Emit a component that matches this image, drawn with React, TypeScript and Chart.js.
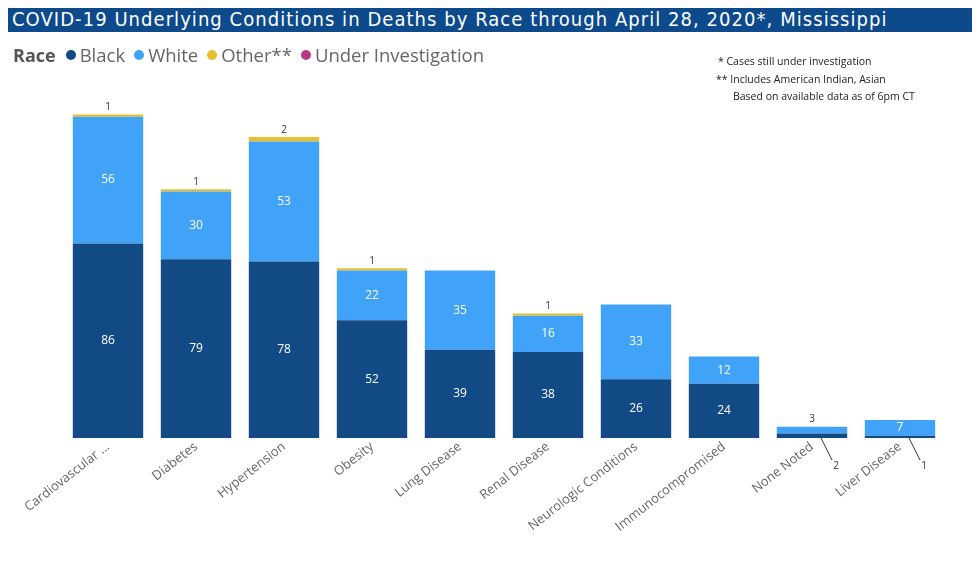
import React, { useEffect, useRef } from "react";
import { Chart, registerables } from "chart.js";

Chart.register(...registerables);

const categories = [
  "Cardiovascular ...",
  "Diabetes",
  "Hypertension",
  "Obesity",
  "Lung Disease",
  "Renal Disease",
  "Neurologic Conditions",
  "Immunocompromised",
  "None Noted",
  "Liver Disease",
];
const blackValues = [86, 79, 78, 52, 39, 38, 26, 24, 2, 1];
const whiteValues = [56, 30, 53, 22, 35, 16, 33, 12, 3, 7];
const otherValues = [1, 1, 2, 1, 0, 1, 0, 0, 0, 0];
const underInvestigationValues = [0, 0, 0, 0, 0, 0, 0, 0, 0, 0];
const seriesNames = ["Black", "White", "Other**", "Under Investigation"];
const seriesColors = ["#124a86", "#41a3f8", "#e6c02e", "#b43a8a"];
const notes = [
  "* Cases still under investigation",
  "** Includes American Indian, Asian",
  "Based on available data as of 6pm CT",
];
const titleText =
  "COVID-19 Underlying Conditions in Deaths by Race through April 28, 2020*, Mississippi";

const segLabels = {
  id: "segLabels",
  afterDatasetsDraw(chart: any) {
    const ctx = chart.ctx;
    ctx.save();
    ctx.textAlign = "center";
    ctx.textBaseline = "middle";
    chart.data.datasets.forEach((ds: any, di: number) => {
      const meta = chart.getDatasetMeta(di);
      meta.data.forEach((bar: any, j: number) => {
        const v = ds.data[j];
        if (!v) return;
        const { x, y, base } = bar.getProps(["x", "y", "base"], true);
        const h = Math.abs(base - y);
        const top = Math.min(y, base);
        let above = 0;
        for (let k = di + 1; k < chart.data.datasets.length; k++) {
          above += chart.data.datasets[k].data[j] || 0;
        }
        if (di >= 2) {
          ctx.fillStyle = "#333";
          ctx.font = "10px 'Open Sans'";
          ctx.fillText(String(v), x, top - 7);
        } else if (h >= 14) {
          ctx.fillStyle = "#ffffff";
          ctx.font = "12px 'Open Sans'";
          ctx.fillText(String(v), x, (y + base) / 2);
        } else if (above === 0) {
          ctx.fillStyle = "#333";
          ctx.font = "10px 'Open Sans'";
          ctx.fillText(String(v), x, top - 8);
        } else {
          const bottom = Math.max(y, base);
          ctx.strokeStyle = "#333";
          ctx.lineWidth = 1;
          ctx.beginPath();
          ctx.moveTo(x + 8, bottom - 2);
          ctx.lineTo(x + 20, bottom + 22);
          ctx.stroke();
          ctx.fillStyle = "#333";
          ctx.font = "10px 'Open Sans'";
          ctx.fillText(String(v), x + 24, bottom + 28);
        }
      });
    });
    ctx.restore();
  },
};

export default function App() {
  const ref = useRef<HTMLCanvasElement | null>(null);
  useEffect(() => {
    if (!ref.current) return;
    const values = [blackValues, whiteValues, otherValues, underInvestigationValues];
    const chart = new Chart(ref.current, {
      type: "bar",
      data: {
        labels: categories,
        datasets: seriesNames.map((name, i) => ({
          label: name,
          data: values[i],
          backgroundColor: seriesColors[i],
          borderWidth: 0,
          barPercentage: 0.8,
          categoryPercentage: 1,
        })),
      },
      options: {
        animation: false,
        responsive: false,
        devicePixelRatio: 1,
        layout: { padding: { left: 56, right: 28, top: 68, bottom: 0 } },
        plugins: {
          legend: { display: false },
          tooltip: { enabled: false },
          title: { display: false },
        },
        scales: {
          x: {
            stacked: true,
            grid: { display: false },
            border: { display: false },
            ticks: {
              color: "#666",
              font: { family: "'Open Sans'", size: 13 },
              minRotation: 38,
              maxRotation: 38,
              autoSkip: false,
              padding: -7,
            },
            afterFit: (s: any) => {
              s.height = 136;
            },
          },
          y: {
            stacked: true,
            display: false,
            min: 0,
            max: 160,
          },
        },
      },
      plugins: [segLabels],
    } as any);
    return () => chart.destroy();
  }, []);

  return (
    <div style={{ position: "relative", width: 964, height: 566 }}>
      <canvas ref={ref} width={964} height={566} style={{ position: "absolute", left: 0, top: 0, width: 964, height: 566 }} />
      <div
        style={{
          position: "absolute",
          left: 0,
          top: -1,
          width: 965,
          height: 25,
          lineHeight: "25px",
          background: "#0d4a8c",
          color: "#fff",
          fontFamily: "'DejaVu Sans Condensed', 'DejaVu Sans'",
          fontSize: 20,
          letterSpacing: 1.05,
          paddingLeft: 4,
          boxSizing: "border-box",
          whiteSpace: "nowrap",
          overflow: "hidden",
        }}
      >
        {titleText}
      </div>
      <div
        style={{
          position: "absolute",
          left: 5,
          top: 36,
          height: 22,
          lineHeight: "22px",
          fontFamily: "'Open Sans'",
          fontSize: 18.5,
          color: "#666",
          whiteSpace: "nowrap",
          display: "flex",
          alignItems: "center",
        }}
      >
        <span style={{ fontWeight: "bold", color: "#555", fontSize: 18, marginRight: 10 }}>Race</span>
        {seriesNames.map((n, i) => (
          <span key={n} style={{ display: "inline-flex", alignItems: "center", marginRight: 9 }}>
            <span
              style={{
                display: "inline-block",
                width: 10,
                height: 10,
                borderRadius: 5,
                background: seriesColors[i],
                marginRight: 4,
              }}
            />
            {n}
          </span>
        ))}
      </div>
      <div
        style={{
          position: "absolute",
          left: 708,
          top: 45,
          fontFamily: "'Open Sans'",
          fontSize: 10.5,
          lineHeight: "17.5px",
          color: "#222",
          whiteSpace: "nowrap",
        }}
      >
        <div style={{ paddingLeft: 2 }}>{notes[0]}</div>
        <div>{notes[1]}</div>
        <div style={{ paddingLeft: 17 }}>{notes[2]}</div>
      </div>
    </div>
  );
}
